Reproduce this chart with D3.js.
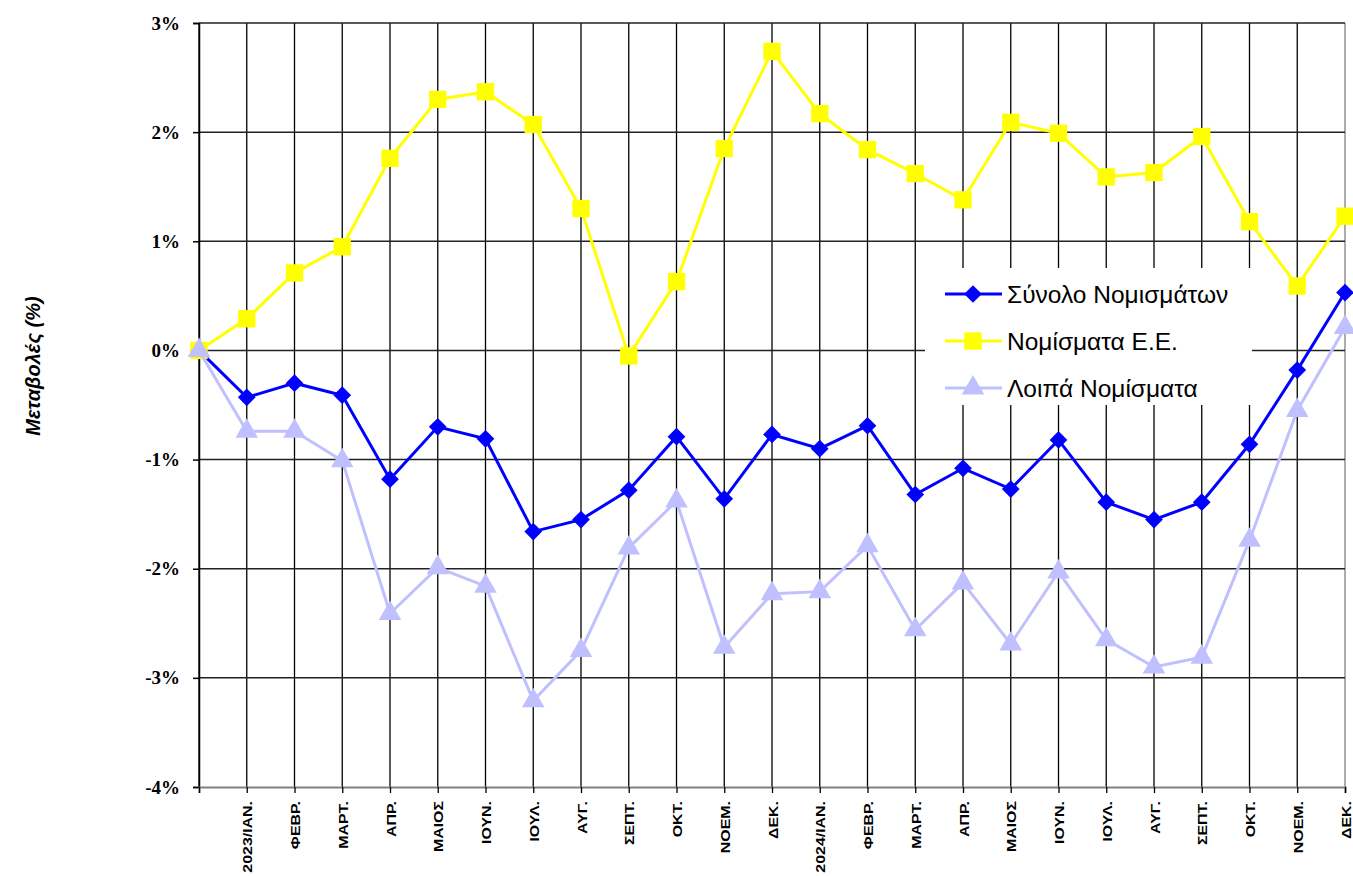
<!DOCTYPE html>
<html><head><meta charset="utf-8">
<script src="https://cdn.jsdelivr.net/npm/d3@7"></script>
<style>body{margin:0;background:#fff}svg{display:block}</style>
</head><body>
<svg id="chart" width="1353" height="876"></svg>
<script>
const monthLabels = ["", "2023/ΙΑΝ.", "ΦΕΒΡ.", "ΜΑΡΤ.", "ΑΠΡ.", "ΜΑΙΟΣ", "ΙΟΥΝ.", "ΙΟΥΛ.", "ΑΥΓ.", "ΣΕΠΤ.", "ΟΚΤ.", "ΝΟΕΜ.", "ΔΕΚ.",
  "2024/ΙΑΝ.", "ΦΕΒΡ.", "ΜΑΡΤ.", "ΑΠΡ.", "ΜΑΙΟΣ", "ΙΟΥΝ.", "ΙΟΥΛ.", "ΑΥΓ.", "ΣΕΠΤ.", "ΟΚΤ.", "ΝΟΕΜ.", "ΔΕΚ."];
const totalValues = [0, -0.43, -0.30, -0.41, -1.18, -0.70, -0.81, -1.66, -1.55, -1.28, -0.79, -1.36, -0.77,
  -0.90, -0.69, -1.32, -1.08, -1.27, -0.82, -1.39, -1.55, -1.39, -0.86, -0.18, 0.53];
const euValues = [0, 0.29, 0.71, 0.95, 1.76, 2.30, 2.37, 2.07, 1.30, -0.05, 0.63, 1.85, 2.74,
  2.17, 1.84, 1.62, 1.38, 2.09, 1.99, 1.59, 1.63, 1.96, 1.18, 0.59, 1.23];
const otherValues = [0, -0.74, -0.74, -1.01, -2.41, -1.99, -2.16, -3.21, -2.75, -1.81, -1.38, -2.72, -2.23,
  -2.21, -1.79, -2.56, -2.13, -2.69, -2.03, -2.65, -2.90, -2.81, -1.74, -0.55, 0.21];
const yTicks = [-4, -3, -2, -1, 0, 1, 2, 3];
const seriesNames = ["Σύνολο Νομισμάτων", "Νομίσματα Ε.Ε.", "Λοιπά Νομίσματα"];
const yTitle = "Μεταβολές (%)";

const svg = d3.select("#chart");
const L = 199, R = 1345, T = 23, B = 787;
const x = d3.scalePoint().domain(d3.range(monthLabels.length)).range([L, R]);
const y = d3.scaleLinear().domain([-4, 3]).range([B, T]);

// vertical gridlines
svg.append("g").selectAll("line").data(d3.range(monthLabels.length)).join("line")
  .attr("x1", d => x(d)).attr("x2", d => x(d)).attr("y1", T).attr("y2", B)
  .attr("stroke", d => d === monthLabels.length - 1 ? "#808080" : "#000").attr("stroke-width", 1.3);
// horizontal gridlines
svg.append("g").selectAll("line").data(yTicks.filter(t => t !== -4)).join("line")
  .attr("x1", L).attr("x2", R).attr("y1", d => y(d)).attr("y2", d => y(d))
  .attr("stroke", "#222").attr("stroke-width", 1.5);

// y axis
const yAxis = svg.append("g").attr("transform", `translate(${L},0)`)
  .call(d3.axisLeft(y).tickValues(yTicks).tickSize(6).tickPadding(13).tickFormat(d => d + "%"));
yAxis.select(".domain").attr("stroke", "#000").attr("stroke-width", 1.5);
yAxis.selectAll(".tick line").attr("stroke", "#000").attr("stroke-width", 1.5);
yAxis.selectAll("text").attr("font-family", "'Liberation Serif', 'Times New Roman', serif")
  .attr("font-weight", "bold").attr("font-size", 19).attr("fill", "#000");

// x axis
const xAxis = svg.append("g").attr("transform", `translate(0,${B})`)
  .call(d3.axisBottom(x).tickSize(6).tickFormat(i => monthLabels[i]));
xAxis.select(".domain").attr("stroke", "#808080").attr("stroke-width", 2);
xAxis.selectAll(".tick line").attr("stroke", "#000").attr("stroke-width", 1.3);
xAxis.selectAll("text")
  .attr("font-family", "'Liberation Sans', Arial, sans-serif").attr("font-weight", "bold")
  .attr("font-size", 13.5).attr("fill", "#000")
  .attr("text-anchor", "end").attr("dy", null).attr("y", 0).attr("x", 0)
  .attr("transform", "translate(5,14) rotate(-90) scale(1.18,1)");

// y title
svg.append("text").attr("transform", "translate(40,366) rotate(-90)")
  .attr("text-anchor", "middle").attr("font-family", "'Liberation Sans', Arial, sans-serif")
  .attr("font-weight", "bold").attr("font-style", "italic").attr("font-size", 20).text(yTitle);

const series = [
  {name: seriesNames[0], values: totalValues, color: "#0000ff", marker: d3.symbolDiamond2, size: 200},
  {name: seriesNames[1], values: euValues, color: "#ffff00", marker: d3.symbolSquare, size: 300},
  {name: seriesNames[2], values: otherValues, color: "#c0c0ff", marker: d3.symbolTriangle, size: 220}
];

const line = d3.line().x((d, i) => x(i)).y(d => y(d));
series.forEach(s => {
  const g = svg.append("g");
  g.append("path").datum(s.values).attr("d", line).attr("fill", "none")
    .attr("stroke", s.color).attr("stroke-width", 3);
  g.selectAll("path.m").data(s.values).join("path").attr("class", "m")
    .attr("d", d3.symbol().type(s.marker).size(s.size))
    .attr("transform", (d, i) => `translate(${x(i)},${y(d)})`)
    .attr("fill", s.color);
});

// legend
const lg = svg.append("g");
lg.append("rect").attr("x", 925).attr("y", 268).attr("width", 327).attr("height", 137).attr("fill", "#fff");
series.forEach((s, i) => {
  const cy = 294 + i * 47;
  lg.append("line").attr("x1", 945).attr("x2", 1002).attr("y1", cy).attr("y2", cy)
    .attr("stroke", s.color).attr("stroke-width", 3);
  lg.append("path").attr("d", d3.symbol().type(s.marker).size(s.size))
    .attr("transform", `translate(973,${cy})`).attr("fill", s.color);
  lg.append("text").attr("x", 1007).attr("y", cy).attr("dy", "0.36em")
    .attr("font-family", "'Liberation Sans', Arial, sans-serif").attr("font-size", 24.5)
    .attr("fill", "#000").text(s.name);
});
</script>
</body></html>
